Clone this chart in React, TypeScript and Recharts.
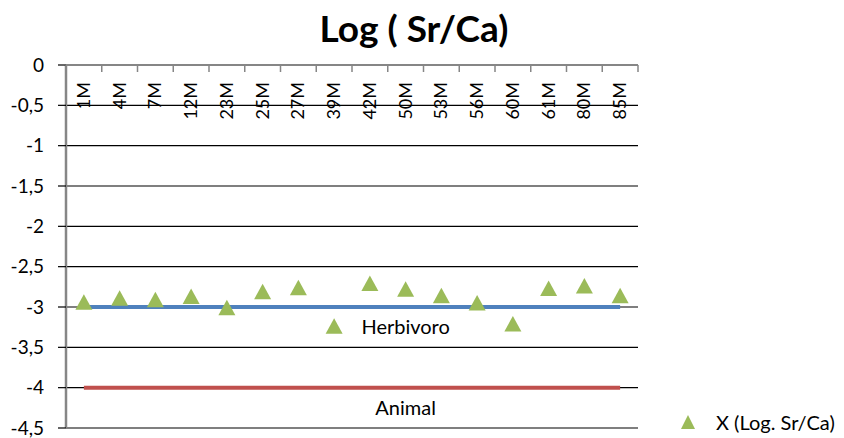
import React from 'react';
import {
  ComposedChart,
  Line,
  Scatter,
  XAxis,
  YAxis,
  CartesianGrid,
  Legend
} from 'recharts';

const samples = ['1M', '4M', '7M', '12M', '23M', '25M', '27M', '39M', '42M', '50M', '53M', '56M', '60M', '61M', '80M', '85M'];
const logSrCa = [-2.94, -2.89, -2.91, -2.87, -3.01, -2.81, -2.76, -3.24, -2.71, -2.78, -2.86, -2.95, -3.21, -2.77, -2.74, -2.86];
const herbivoro = [-3, -3, -3, -3, -3, -3, -3, -3, -3, -3, -3, -3, -3, -3, -3, -3];
const animal = [-4, -4, -4, -4, -4, -4, -4, -4, -4, -4, -4, -4, -4, -4, -4, -4];
const yTicks = [0, -0.5, -1, -1.5, -2, -2.5, -3, -3.5, -4, -4.5];

const data = samples.map((s, i) => ({
  sample: s,
  sr: logSrCa[i],
  herb: herbivoro[i],
  anim: animal[i]
}));

const W = 844;
const H = 438;
const FONT = 'Lato, "Open Sans", sans-serif';
const margin = { top: 45, right: 206, bottom: 10, left: 0 };
const Y_W = 66;
const STEP = (W - Y_W - margin.left - margin.right) / samples.length;

const SampleTick = (props: any) => {
  const { x, y, payload, index } = props;
  return (
    <g>
      <line x1={x - STEP / 2} y1={y} x2={x - STEP / 2} y2={y + 7} stroke="#868686" strokeWidth={1.5} />
      {index === samples.length - 1 && (
        <line x1={x + STEP / 2} y1={y} x2={x + STEP / 2} y2={y + 7} stroke="#868686" strokeWidth={1.5} />
      )}
      <g transform={`translate(${x},${y})`}>
        <text transform="rotate(-90)" x={-17} y={6} textAnchor="end" fill="#000" fontSize={18} fontFamily={FONT}>
          {payload.value}
        </text>
      </g>
    </g>
  );
};

const Triangle = (props: any) => {
  const { cx, cy } = props;
  return <polygon points={`${cx},${cy - 8} ${cx - 8.5},${cy + 7.5} ${cx + 8.5},${cy + 7.5}`} fill="#9BBB59" />;
};

// name under the line, at the 50M point
const lineLabel = (text: string) => (props: any) => {
  if (props.index !== 9) return null;
  return (
    <text x={props.x} y={props.y + 27} textAnchor="middle" fill="#000" fontSize={20} fontFamily={FONT}>
      {text}
    </text>
  );
};

const LegendBox = () => (
  <div style={{ display: 'flex', alignItems: 'center', fontFamily: FONT, fontSize: 20, color: '#000', whiteSpace: 'nowrap' }}>
    <svg width={16} height={16} style={{ marginRight: 20 }}>
      <polygon points="8,1 1,15 15,15" fill="#9BBB59" />
    </svg>
    <span>X (Log. Sr/Ca)</span>
  </div>
);

export default function App() {
  return (
    <div style={{ position: 'absolute', left: 0, top: 0, width: W, height: H, background: '#fff' }}>
      <div
        style={{
          position: 'absolute',
          left: 0,
          top: 6,
          width: 828,
          textAlign: 'center',
          fontFamily: FONT,
          fontWeight: 700,
          fontSize: 37,
          lineHeight: '44px',
          color: '#000'
        }}
      >
        Log ( Sr/Ca)
      </div>
      <ComposedChart width={W} height={H} data={data} margin={margin} style={{ fontFamily: FONT }}>
        <CartesianGrid horizontal vertical={false} stroke="#000" strokeWidth={1.2} />
        <XAxis
          dataKey="sample"
          orientation="top"
          scale="band"
          height={20}
          axisLine={{ stroke: '#868686', strokeWidth: 2 }}
          tickLine={false}
          tickSize={0}
          tickMargin={0}
          interval={0}
          tick={<SampleTick />}
        />
        <YAxis
          width={Y_W}
          domain={[-4.5, 0]}
          ticks={yTicks}
          interval={0}
          axisLine={{ stroke: '#868686', strokeWidth: 2.5 }}
          tickLine={{ stroke: '#000', strokeWidth: 1.2 }}
          tickSize={8}
          tickMargin={14}
          tick={{ fill: '#000', fontSize: 19, fontFamily: FONT }}
          tickFormatter={(v: number) => String(v).replace('.', ',')}
        />
        <Line
          dataKey="herb"
          stroke="#4F81BD"
          strokeWidth={4}
          dot={false}
          activeDot={false}
          isAnimationActive={false}
          label={lineLabel('Herbivoro')}
        />
        <Line
          dataKey="anim"
          stroke="#C0504D"
          strokeWidth={4}
          dot={false}
          activeDot={false}
          isAnimationActive={false}
          label={lineLabel('Animal')}
        />
        <Scatter dataKey="sr" shape={<Triangle />} isAnimationActive={false} />
        <Legend
          layout="horizontal"
          verticalAlign="middle"
          align="center"
          wrapperStyle={{ position: 'absolute', left: 680, top: 410, width: 164 }}
          content={<LegendBox />}
        />
      </ComposedChart>
    </div>
  );
}
